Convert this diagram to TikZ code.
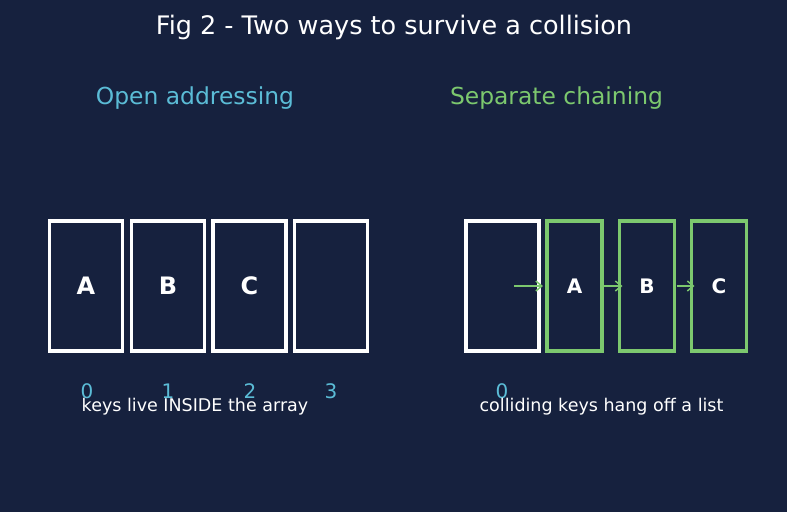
\documentclass[tikz,border=0pt]{standalone}
\usepackage{fontspec}
\setmainfont{DejaVu Sans}
\usetikzlibrary{arrows.meta}

\definecolor{bgnavy}{HTML}{16213E}
\definecolor{keycyan}{HTML}{5BBCD6}
\definecolor{chaingreen}{HTML}{7CC86E}

\tikzset{
  slot/.style={draw=white, line width=3.5pt, minimum width=73pt, minimum height=130pt,
    inner sep=0pt, outer sep=0pt, text=white, font=\bfseries\fontsize{24}{24}\selectfont},
  link/.style={slot, draw=chaingreen, minimum width=55pt,
    font=\bfseries\fontsize{20}{20}\selectfont},
  idx/.style={anchor=base, inner sep=0pt, text=keycyan, font=\fontsize{20}{20}\selectfont},
  note/.style={anchor=base, inner sep=0pt, text=white, font=\fontsize{17.5}{17.5}\selectfont},
  chainarrow/.style={draw=chaingreen, line width=1.5pt, -{Straight Barb[length=6pt,width=10pt]}},
}

\begin{document}
\begin{tikzpicture}[x=1pt, y=-1pt]
  \fill[bgnavy] (0,0) rectangle (787,512);
  \useasboundingbox (0,0) rectangle (787,512);

  % titles
  \node[anchor=base, inner sep=0pt, text=white, font=\fontsize{25.5}{25.5}\selectfont]
    (title) at (394,34) {Fig 2 - Two ways to survive a collision};
  \node[anchor=base, inner sep=0pt, text=keycyan, font=\fontsize{23.4}{23.4}\selectfont]
    (opentitle) at (195,104) {Open addressing};
  \node[anchor=base, inner sep=0pt, text=chaingreen, font=\fontsize{23.4}{23.4}\selectfont]
    (chaintitle) at (556.5,104) {Separate chaining};

  % open addressing: keys sit in the slots
  \node[slot] (s0) at (86,286) {A};
  \node[slot] (s1) at (168,286) {B};
  \node[slot] (s2) at (249.5,286) {C};
  \node[slot] (s3) at (331,286) {};
  \node[idx] (i0) at (87,398) {0};
  \node[idx] (i1) at (168,398) {1};
  \node[idx] (i2) at (250,398) {2};
  \node[idx] (i3) at (331,398) {3};
  \node[note] (opennote) at (195,411) {keys live INSIDE the array};

  % separate chaining: slot 0 points to a list
  \node[slot] (c0) at (502.5,286) {};
  \node[link] (g1) at (574.5,286) {A};
  \node[link] (g2) at (647,286) {B};
  \node[link] (g3) at (719,286) {C};
  \coordinate (head) at (514,286);
  \draw[chainarrow, shorten >=4pt] (head) -- (g1.west);
  \draw[chainarrow, shorten <=2pt, shorten >=-3pt] (g1.east) -- (g2.west);
  \draw[chainarrow, shorten <=2pt, shorten >=-3pt] (g2.east) -- (g3.west);
  \node[idx] (j0) at (502,398) {0};
  \node[note] (chainnote) at (601.5,411) {colliding keys hang off a list};
\end{tikzpicture}
\end{document}
